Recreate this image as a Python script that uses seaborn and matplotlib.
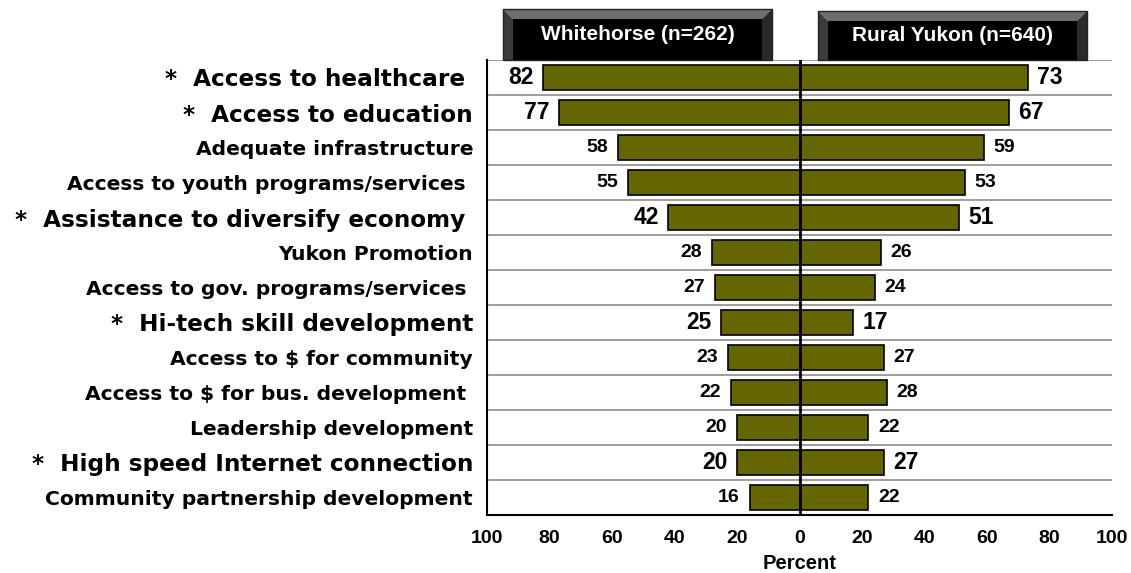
import matplotlib
matplotlib.use("Agg")
import matplotlib.pyplot as plt
from matplotlib import font_manager as fm
from matplotlib.patches import Polygon, Rectangle
import seaborn as sns
import pandas as pd

# Survey items, ranked by Whitehorse share
items = [
    "Access to healthcare ",
    "Access to education",
    "Adequate infrastructure",
    "Access to youth programs/services ",
    "Assistance to diversify economy ",
    "Yukon Promotion",
    "Access to gov. programs/services ",
    "Hi-tech skill development",
    "Access to $ for community",
    "Access to $ for bus. development ",
    "Leadership development",
    "High speed Internet connection",
    "Community partnership development",
]
# Items flagged as significant differences
flagged = [True, True, False, False, True, False, False, True, False, False, False, True, False]
whitehorse = [82, 77, 58, 55, 42, 28, 27, 25, 23, 22, 20, 20, 16]
rural = [73, 67, 59, 53, 51, 26, 24, 17, 27, 28, 22, 27, 22]
groups = ["Whitehorse (n=262)", "Rural Yukon (n=640)"]
ticks = [-100, -80, -60, -40, -20, 0, 20, 40, 60, 80, 100]

labels = [("*  " + t) if f else t for t, f in zip(items, flagged)]

sns.set_theme(style="white")
plt.rcParams["font.family"] = ["DejaVu Sans"]
plt.rcParams["text.color"] = "black"
plt.rcParams["xtick.color"] = "black"
plt.rcParams["ytick.color"] = "black"
plt.rcParams["axes.labelcolor"] = "black"


def _arial_bold_file():
    # Regular-width Liberation Sans Bold (skip the Narrow cut)
    for f in fm.fontManager.ttflist:
        if (f.name == "Liberation Sans" and f.weight in (700, "bold")
                and f.style == "normal" and "narrow" not in f.fname.lower()):
            return f.fname
    return None


ARIAL_BOLD = _arial_bold_file()


def num_font(size):
    if ARIAL_BOLD:
        return fm.FontProperties(fname=ARIAL_BOLD, size=size)
    return fm.FontProperties(family="DejaVu Sans", weight="bold", size=size)


LABEL_FONT = ["DejaVu Sans"]
BAR = "#666600"
W, H = 1131, 573
fig = plt.figure(figsize=(W / 100, H / 100), dpi=100)
ax = fig.add_axes([487 / W, 1 - 515 / H, (1112 - 487) / W, (515 - 60) / H])

left_df = pd.DataFrame({"item": labels, "value": [-v for v in whitehorse]})
right_df = pd.DataFrame({"item": labels, "value": rural})
for df in (left_df, right_df):
    sns.barplot(data=df, y="item", x="value", orient="h", color=BAR,
                saturation=1, edgecolor="black", linewidth=1.2, width=0.7, ax=ax)

ax.set_xlim(-100, 100)
ax.set_ylim(len(items) - 0.5, -0.5)

# Row separators and centre line
for i in range(len(items) + 1):
    ax.axhline(i - 0.5, color="#8c8c8c", lw=1.2, zorder=0)
ax.axvline(0, color="black", lw=2, zorder=5)

for s in ["top", "right"]:
    ax.spines[s].set_visible(False)
for s in ["left", "bottom"]:
    ax.spines[s].set_color("black")
    ax.spines[s].set_linewidth(1.5)

ax.set_xticks(ticks)
ax.set_xticklabels([str(abs(t)) for t in ticks])
for lab in ax.get_xticklabels():
    lab.set_fontproperties(num_font(14))
ax.tick_params(axis="x", length=0, pad=11)
ax.set_xlabel("Percent", fontproperties=num_font(14.5), labelpad=5)
ax.set_ylabel("")
ax.set_yticks(range(len(items)))
ax.set_yticklabels(labels)
ax.tick_params(axis="y", length=0, pad=10)
for lab, f in zip(ax.get_yticklabels(), flagged):
    lab.set_fontweight("bold")
    lab.set_family(LABEL_FONT)
    lab.set_fontsize(16.7 if f else 14.6)
    lab.set_color("black")

# Value labels beside each bar
for i, (a, b, f) in enumerate(zip(whitehorse, rural, flagged)):
    fp = num_font(16.5 if f else 14)
    ax.annotate(str(a), (-a, i), xytext=(-7, 0), textcoords="offset points",
                ha="right", va="center", fontproperties=fp)
    ax.annotate(str(b), (b, i), xytext=(7, 0), textcoords="offset points",
                ha="left", va="center", fontproperties=fp)


def header(x0, x1, y0, y1, text, bev=10):
    """Bevelled black button with white caption, in pixel coordinates."""
    def P(pts):
        return [(x / W, 1 - y / H) for x, y in pts]
    fig.add_artist(Polygon(P([(x0, y0), (x1, y0), (x1 - bev, y0 + bev), (x0 + bev, y0 + bev)]),
                           closed=True, fc="#6e6e6e", ec="none", transform=fig.transFigure))
    fig.add_artist(Polygon(P([(x0, y0), (x0 + bev, y0 + bev), (x0 + bev, y1), (x0, y1)]),
                           closed=True, fc="#3c3c3c", ec="none", transform=fig.transFigure))
    fig.add_artist(Polygon(P([(x1, y0), (x1 - bev, y0 + bev), (x1 - bev, y1), (x1, y1)]),
                           closed=True, fc="#2a2a2a", ec="none", transform=fig.transFigure))
    fig.add_artist(Rectangle(((x0 + bev) / W, 1 - y1 / H), (x1 - x0 - 2 * bev) / W, (y1 - y0 - bev) / H,
                             fc="black", ec="none", transform=fig.transFigure))
    fig.add_artist(Polygon(P([(x0, y0), (x1, y0), (x1, y1), (x0, y1)]), closed=True,
                           fc="none", ec="#222222", lw=1, transform=fig.transFigure))
    fig.text((x0 + x1) / 2 / W, 1 - (y0 + y1) / 2 / H, text,
             color="white", ha="center", va="center", fontproperties=num_font(15))


header(503, 772, 9, 60, groups[0])
header(818, 1087, 11, 60, groups[1])

fig.savefig("out.png", dpi=100)
